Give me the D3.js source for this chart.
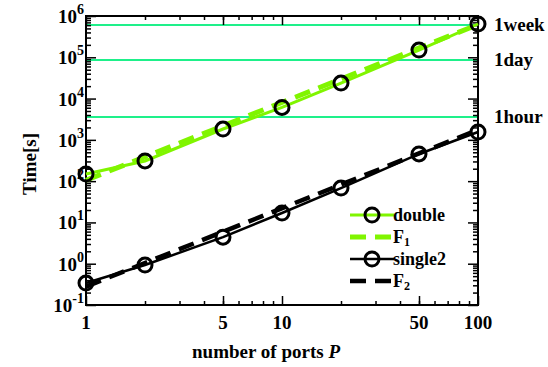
<!DOCTYPE html>
<html><head><meta charset="utf-8">
<script src="https://cdn.jsdelivr.net/npm/d3@7"></script>
<style>body{margin:0;background:#fff}</style>
</head><body><svg id="c" width="548" height="367" font-family="Liberation Serif, Times New Roman, serif" font-weight="bold"></svg>
<script>
const ports = [1, 2, 5, 10, 20, 50, 100];
const doubleTime = [149, 308, 1830, 6100, 23800, 150000, 640000];
const single2Time = [0.34, 0.93, 4.4, 16.9, 68, 455, 1550];
const f1X = [1, 100];
const f1Time = [105, 620000];
const f2X = [1, 100];
const f2Time = [0.28, 1750];
const refLines = [{label: "1week", v: 604800}, {label: "1day", v: 86400}, {label: "1hour", v: 3600}];
const xTickLabels = [1, 5, 10, 50, 100];
const yExponents = [-1, 0, 1, 2, 3, 4, 5, 6];

const FONT = "'Liberation Serif', 'Times New Roman', serif";
const svg = d3.select("#c");
const L = 86, R = 478, T = 16, B = 305;
const x = d3.scaleLog().domain([1, 100]).range([L, R]);
const y = d3.scaleLog().domain([0.1, 1e6]).range([B, T]);

// reference lines
svg.selectAll(".ref").data(refLines).enter().append("line")
  .attr("x1", L).attr("x2", R).attr("y1", d => y(d.v)).attr("y2", d => y(d.v))
  .attr("stroke", "#1ef08a").attr("stroke-width", 2);
svg.selectAll(".reft").data(refLines).enter().append("text")
  .attr("x", 494).attr("y", d => y(d.v) + 6).attr("font-size", 19).text(d => d.label);

// axes ticks
const xMinor = [];
for (const dec of [1, 10]) for (let k = 2; k <= 9; k++) xMinor.push(k * dec);
const yTicks = [];
for (let e = -1; e < 6; e++) for (let k = 2; k <= 9; k++) yTicks.push(k * Math.pow(10, e));

svg.append("g").attr("transform", `translate(0,${B})`).call(d3.axisBottom(x).tickValues(xMinor).tickSize(-4).tickFormat(""));
svg.append("g").attr("transform", `translate(0,${T})`).call(d3.axisTop(x).tickValues(xMinor).tickSize(-4).tickFormat(""));
svg.append("g").attr("transform", `translate(0,${B})`).call(d3.axisBottom(x).tickValues(xTickLabels).tickSize(-9).tickFormat(""));
svg.append("g").attr("transform", `translate(0,${T})`).call(d3.axisTop(x).tickValues(xTickLabels).tickSize(-9).tickFormat(""));
const yMajor = yExponents.map(e => Math.pow(10, e));
svg.append("g").attr("transform", `translate(${L},0)`).call(d3.axisLeft(y).tickValues(yTicks).tickSize(-5).tickFormat(""));
svg.append("g").attr("transform", `translate(${R},0)`).call(d3.axisRight(y).tickValues(yTicks).tickSize(-5).tickFormat(""));
svg.append("g").attr("transform", `translate(${L},0)`).call(d3.axisLeft(y).tickValues(yMajor).tickSize(-10).tickFormat(""));
svg.append("g").attr("transform", `translate(${R},0)`).call(d3.axisRight(y).tickValues(yMajor).tickSize(-10).tickFormat(""));
svg.selectAll(".domain").remove();
svg.selectAll(".tick line").attr("stroke", "#000").attr("stroke-width", 1.5);

// frame
svg.append("rect").attr("x", L).attr("y", T).attr("width", R - L).attr("height", B - T)
  .attr("fill", "none").attr("stroke", "#000").attr("stroke-width", 2);

// tick labels
svg.selectAll(".xl").data(xTickLabels).enter().append("text")
  .attr("x", d => x(d)).attr("y", B + 24).attr("text-anchor", "middle").attr("font-size", 19).text(d => d);
const yl = svg.selectAll(".yl").data(yExponents).enter().append("text")
  .attr("x", 84).attr("y", d => y(Math.pow(10, d)) + 7).attr("text-anchor", "end").attr("font-size", 19);
yl.append("tspan").text("10");
yl.append("tspan").attr("dy", -9).attr("font-size", 14).text(d => d);

// axis titles
svg.append("text").attr("transform", "translate(36,164) rotate(-90)").attr("text-anchor", "middle")
  .attr("font-size", 19).text("Time[s]");
const xt = svg.append("text").attr("x", 266).attr("y", 358).attr("text-anchor", "middle").attr("font-size", 19);
xt.append("tspan").text("number of ports ");
xt.append("tspan").attr("font-style", "italic").text("P");

const line = d3.line().x(d => x(d[0])).y(d => y(d[1]));
const green = "#80f500";
svg.append("path").attr("d", line(d3.zip(f1X, f1Time))).attr("fill", "none")
  .attr("stroke", green).attr("stroke-width", 5).attr("stroke-dasharray", "16,9");
svg.append("path").attr("d", line(d3.zip(ports, doubleTime))).attr("fill", "none")
  .attr("stroke", green).attr("stroke-width", 3);
svg.append("path").attr("d", line(d3.zip(f2X, f2Time))).attr("fill", "none")
  .attr("stroke", "#000").attr("stroke-width", 4.5).attr("stroke-dasharray", "16,9");
svg.append("path").attr("d", line(d3.zip(ports, single2Time))).attr("fill", "none")
  .attr("stroke", "#000").attr("stroke-width", 2.5);

function circles(vals) {
  svg.append("g").selectAll("circle").data(d3.zip(ports, vals)).enter().append("circle")
    .attr("cx", d => x(d[0])).attr("cy", d => y(d[1])).attr("r", 7)
    .attr("fill", "none").attr("stroke", "#000").attr("stroke-width", 3);
}
circles(doubleTime);
circles(single2Time);

// legend
const leg = [
  {name: "double", color: green, dash: null, w: 3, marker: true, yy: 215},
  {name: "F", sub: "1", color: green, dash: "16,9", w: 5, marker: false, yy: 237},
  {name: "single2", color: "#000", dash: null, w: 2.5, marker: true, yy: 259},
  {name: "F", sub: "2", color: "#000", dash: "16,9", w: 4.5, marker: false, yy: 281}
];
leg.forEach(d => {
  const ln = svg.append("line").attr("x1", 350).attr("x2", 394).attr("y1", d.yy).attr("y2", d.yy)
    .attr("stroke", d.color).attr("stroke-width", d.w);
  if (d.dash) ln.attr("stroke-dasharray", d.dash);
  if (d.marker) svg.append("circle").attr("cx", 372).attr("cy", d.yy).attr("r", 7)
    .attr("fill", "none").attr("stroke", "#000").attr("stroke-width", 3);
  const t = svg.append("text").attr("x", 393).attr("y", d.yy + 6).attr("font-size", 18).text(d.name);
  if (d.sub) t.append("tspan").attr("dy", 3).attr("font-size", 12).text(d.sub);
});
svg.selectAll("text").attr("font-family", FONT).attr("font-weight", "bold");
</script></body></html>
